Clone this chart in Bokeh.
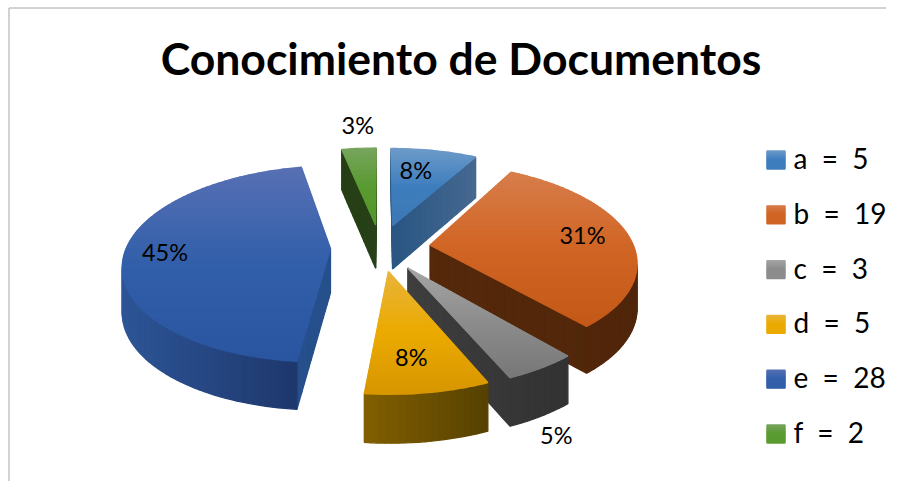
import math
from bokeh.plotting import figure
from bokeh.models import Range1d, ColumnDataSource
from bokeh.core.properties import value
from bokeh.embed import file_html
from bokeh.resources import INLINE

title_text = "Conocimiento de Documentos"
categories = ["a", "b", "c", "d", "e", "f"]
values = [5, 19, 3, 5, 28, 2]

# top-face gradient: light / base / dark
top_light = ["#6F9BC9", "#D77D4B", "#A5A5A5", "#E8B43C", "#5870B4", "#78A55F"]
top_base = ["#3E7EBE", "#D06423", "#8C8C8C", "#EBAA00", "#325FAA", "#5A9B32"]
top_dark = ["#3E78B4", "#C35816", "#787878", "#D79600", "#2A55A0", "#55962D"]
# side shading, left to right
rim_left = ["#28558A", "#55280A", "#3E3E3E", "#825F00", "#2D5596", "#263E14"]
rim_right = ["#466991", "#50260A", "#323232", "#554100", "#1B3264", "#284119"]
wall_left = ["#285582", "#55280A", "#3E3E3E", "#825F00", "#26508C", "#263E14"]
wall_right = ["#466991", "#50260A", "#323232", "#554100", "#26508C", "#284119"]
# percent label offsets from the slice's anchor (px)
lab_r = [0.5, 0.72, 1.35, 0.62, 0.78, 1.3]
label_dx = [1, 9, -42, 0, -5, 3]
label_dy = [-16, -3, 24, 15, 0, -4]

# projection parameters
CX, CY, A, B, PERSP, EXPLODE, HEIGHT = 380, 247, 204, 95.4, 0.155, 0.245, 44


def project(X, Y):
    s = 1 / (1 + PERSP * Y)
    return CX + A * X * s, CY - B * Y * s, s


def rgb(h):
    return tuple(int(h[i:i + 2], 16) for i in (1, 3, 5))


def mix(c1, c2, t):
    t = max(0.0, min(1.0, t))
    a, b = rgb(c1), rgb(c2)
    return "#%02x%02x%02x" % tuple(round(a[i] + (b[i] - a[i]) * t) for i in range(3))


def clip(poly, y0, y1):
    def half(pts, inside, ylim):
        out = []
        for i in range(len(pts)):
            p, q = pts[i], pts[(i + 1) % len(pts)]
            if inside(p):
                out.append(p)
            if inside(p) != inside(q):
                t = (ylim - p[1]) / (q[1] - p[1])
                out.append((p[0] + (q[0] - p[0]) * t, ylim))
        return out
    pts = half(poly, lambda p: p[1] >= y0, y0)
    if pts:
        pts = half(pts, lambda p: p[1] <= y1, y1)
    return pts


def gradient_bands(poly, light, base, dark, step=2.0):
    ys = [p[1] for p in poly]
    ymin, ymax = min(ys), max(ys)
    res = []
    y = ymin
    while y < ymax:
        piece = clip(poly, y, y + step)
        if len(piece) >= 3:
            t = (y + step / 2 - ymin) / (ymax - ymin)
            col = mix(light, base, t * 2) if t < 0.5 else mix(base, dark, t * 2 - 1)
            res.append(([p[0] for p in piece], [p[1] for p in piece], col))
        y += step
    return res


total = sum(values)
bounds = [0.0]
for v in values:
    bounds.append(bounds[-1] + v / total * 360)

slices = []
for i, v in enumerate(values):
    t0, t1 = bounds[i], bounds[i + 1]
    mid = math.radians((t0 + t1) / 2)
    ox, oy = EXPLODE * math.sin(mid), EXPLODE * math.cos(mid)
    world = [(ox, oy)]
    n = max(2, int((t1 - t0) / 1.5))
    for k in range(n + 1):
        th = math.radians(t0 + (t1 - t0) * k / n)
        world.append((ox + math.sin(th), oy + math.cos(th)))
    slices.append((oy, i, world, ox, mid))

xs, ys, colors = [], [], []
# paint far slices first
for oy, i, world, ox, mid in sorted(slices, key=lambda r: -r[0]):
    loop = []
    m = len(world)
    for k in range(m):
        p, q = world[k], world[(k + 1) % m]
        radial = k == 0 or k == m - 1
        parts = 16 if radial else 1
        for j in range(parts):
            a0 = j / parts
            a1 = (j + 1) / parts
            loop.append(((p[0] + (q[0] - p[0]) * a0, p[1] + (q[1] - p[1]) * a0),
                         (p[0] + (q[0] - p[0]) * a1, p[1] + (q[1] - p[1]) * a1), radial))
    faces = []
    for P, Q, radial in loop:
        x1, y1, s1 = project(*P)
        x2, y2, s2 = project(*Q)
        if x2 < x1 - 1e-6:  # a clockwise edge running left is a visible side
            faces.append((x1, y1, s1, x2, y2, s2, radial))
    if faces:
        xmin = min(min(f[0], f[3]) for f in faces)
        xmax = max(max(f[0], f[3]) for f in faces)
        for x1, y1, s1, x2, y2, s2, radial in sorted(faces, key=lambda f: f[6], reverse=True):
            t = ((x1 + x2) / 2 - xmin) / max(1, xmax - xmin)
            col = mix(wall_left[i], wall_right[i], t) if radial else mix(rim_left[i], rim_right[i], t)
            xs.append([x1, x2, x2, x1])
            ys.append([y1, y2, y2 + HEIGHT * s2 ** 0.5, y1 + HEIGHT * s1 ** 0.5])
            colors.append(col)
    face = [project(*w)[:2] for w in world]
    for bx, by, col in gradient_bands(face, top_light[i], top_base[i], top_dark[i]):
        xs.append(bx)
        ys.append(by)
        colors.append(col)

# legend swatches
LEG_X, LEG_Y, LEG_STEP, LEG_SIZE = 766.5, 150.5, 54.8, 18
for i in range(len(categories)):
    y0 = LEG_Y + i * LEG_STEP
    sq = [(LEG_X, y0), (LEG_X + LEG_SIZE, y0), (LEG_X + LEG_SIZE, y0 + LEG_SIZE), (LEG_X, y0 + LEG_SIZE)]
    for bx, by, col in gradient_bands(sq, top_light[i], top_base[i], top_base[i], step=1.0):
        xs.append(bx)
        ys.append(by)
        colors.append(col)

p = figure(width=886, height=481, output_backend="svg", toolbar_location=None,
           x_range=Range1d(0, 886), y_range=Range1d(481, 0), min_border=0,
           x_axis_type=None, y_axis_type=None, outline_line_color=None)
p.grid.visible = False
p.background_fill_color = "white"
p.border_fill_color = "white"

p.patches("xs", "ys", source=ColumnDataSource(dict(xs=xs, ys=ys, c=colors)),
          fill_color="c", line_color="c", line_width=1.3)

# frame lines on the left and top
p.line([8.5, 8.5, 886], [481, 7.5, 7.5], line_color="#A6A6A6", line_width=1)

# percent labels
lab_x, lab_y, lab_t = [], [], []
for oy, i, world, ox, mid in sorted(slices, key=lambda r: r[1]):
    X = ox + lab_r[i] * math.sin(mid)
    Y = oy + lab_r[i] * math.cos(mid)
    x, y, _ = project(X, Y)
    lab_x.append(x + label_dx[i])
    lab_y.append(y + label_dy[i])
    lab_t.append(f"{round(values[i] / total * 100)}%")
p.text(lab_x, lab_y, text=lab_t, text_font=value("Lato"), text_font_size="23.5px",
       text_color="#000000", text_align="center", text_baseline="middle")

# legend labels
NBSP = "\u00a0"
leg_text = [f"{c}{NBSP}{NBSP}={NBSP}{NBSP}{v}" for c, v in zip(categories, values)]
leg_x = [793] * len(categories)
leg_y = [LEG_Y + LEG_SIZE / 2 - 2 + i * LEG_STEP for i in range(len(categories))]
p.text(leg_x, leg_y, text=leg_text, text_font=value("Lato"), text_font_size="28px",
       text_color="#000000", text_align="left", text_baseline="middle")

# title
p.text([460.5], [57], text=[title_text], text_font=value("Lato"), text_font_style="bold",
       text_font_size="44.5px", text_color="#000000", text_align="center", text_baseline="middle")

open("out.html", "w").write(file_html(p, INLINE))
